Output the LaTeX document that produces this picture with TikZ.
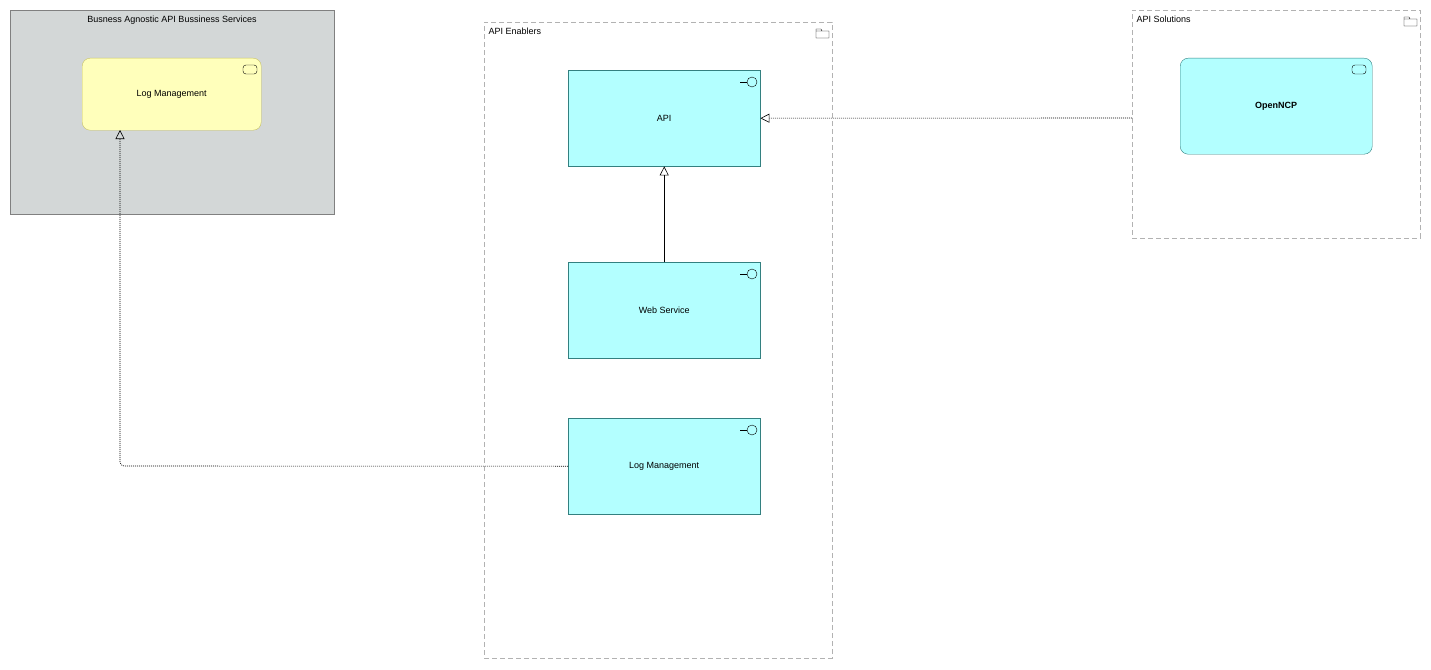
\documentclass[tikz,border=0pt]{standalone}
\usepackage{fontspec}
\setmainfont{Liberation Sans}
\usetikzlibrary{arrows.meta}
\definecolor{grp}{HTML}{D3D7D7}
\definecolor{cy}{HTML}{B3FFFF}
\definecolor{yl}{HTML}{FFFFBB}
\begin{document}
\begin{tikzpicture}[x=1pt,y=-1pt,font=\fontsize{9}{11}\selectfont,
 iface/.style={draw=teal!60!gray,fill=cy},
 dgrp/.style={draw=gray!60,dashed,dash pattern=on 5pt off 3pt},
 rel/.style={-{Triangle[open,length=9pt,width=9pt]},line width=0.6pt},
 dot/.style={rel,dash pattern=on 1pt off 1pt}]
\useasboundingbox (0,0) rectangle (1431,669);
% grey group
\node[draw=gray,fill=grp,minimum width=324pt,minimum height=204pt,anchor=north west,inner sep=0] (g1) at (10,10) {};
\node[anchor=north] (g1t) at (172,12) {Busness Agnostic API Bussiness Services};
\node[draw=olive!50,fill=yl,rounded corners=8pt,minimum width=179pt,minimum height=72pt,anchor=north west] (lm1) at (82,58) {Log Management};
\draw[rounded corners=3pt] (243,65) rectangle (257,74);
% API enablers
\node[dgrp,minimum width=348pt,minimum height=636pt,anchor=north west,inner sep=0] (g2) at (484,22) {};
\node[anchor=north west] (g2t) at (485,24) {API Enablers};
\draw (816,29) -- (816,38) -- (829,38) -- (829,31) -- (822,31) -- (821,29) -- cycle (816,31)--(822,31);
\node[iface,minimum width=192pt,minimum height=96pt,anchor=north west] (api) at (568,70) {API};
\node[iface,minimum width=192pt,minimum height=96pt,anchor=north west] (ws) at (568,262) {Web Service};
\node[iface,minimum width=192pt,minimum height=96pt,anchor=north west] (lm2) at (568,418) {Log Management};
\foreach \y in {82,274,430}{\draw (740,\y)--(747,\y); \draw (752,\y) circle (5pt);}
% API solutions
\node[dgrp,minimum width=288pt,minimum height=228pt,anchor=north west,inner sep=0] (g3) at (1132,10) {};
\node[anchor=north west] (g3t) at (1133,12) {API Solutions};
\draw (1404,17) -- (1404,26) -- (1417,26) -- (1417,19) -- (1410,19) -- (1409,17) -- cycle (1404,19)--(1410,19);
\node[iface,rounded corners=8pt,minimum width=192pt,minimum height=96pt,anchor=north west,font=\fontsize{9}{11}\selectfont\bfseries] (ncp) at (1180,58) {OpenNCP};
\draw[rounded corners=3pt] (1352,65) rectangle (1366,74);
% relations
\draw[rel] (ws.north) -- (api.south);
\coordinate (s3) at (1132,118);
\draw[dot] (s3) -- (api.east);
\coordinate (bend) at (120,466);
\coordinate (lmt) at (120,130);
\draw[dot,rounded corners=4pt] (lm2.west) -- (bend) -- (lmt);
\end{tikzpicture}
\end{document}
